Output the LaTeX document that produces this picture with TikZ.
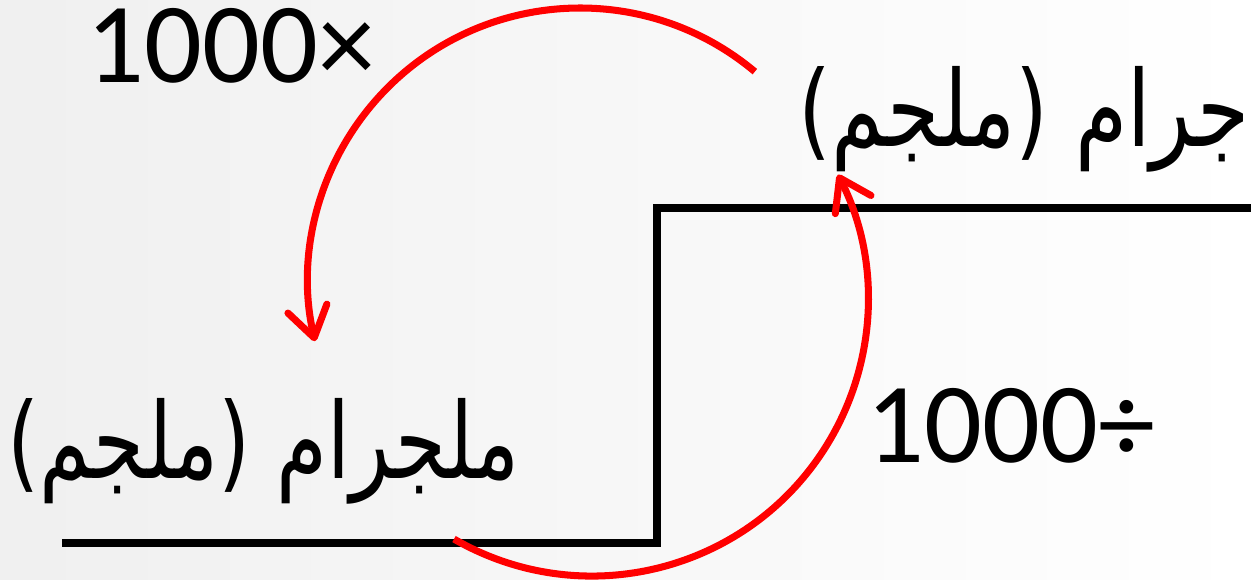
\documentclass[tikz,border=0pt]{standalone}
\usepackage{fontspec}
\setmainfont{Carlito}
\newfontfamily\arabicfont[Script=Arabic]{DejaVu Sans}
\TeXXeTstate=1
\usetikzlibrary{arrows.meta}
\begin{document}
\begin{tikzpicture}[
    conv/.style={red,line width=2pt,-{Straight Barb[length=3mm,width=4mm,round]}},
    stair/.style={line width=2.3pt},
    lbl/.style={font=\fontsize{32.5}{38}\selectfont,inner sep=0pt},
    arlbl/.style={font=\fontsize{30}{36}\selectfont\arabicfont,inner sep=0pt}
    ]
    \useasboundingbox (0,0) rectangle (12.51,5.79);
    \shade[left color=gray!12,right color=white] (0,0) rectangle (12.51,5.79);
    \draw[stair] (0.62,0.36) -- (6.57,0.36) -- (6.57,3.71) -- (12.51,3.71);
    \node[lbl,anchor=base west] (mul) at (0.86,4.97) {1000×};
    \node[lbl,anchor=base west] (div) at (8.66,1.17) {1000÷};
    \node[arlbl] (gram) at (10.24,4.60) {\scalebox{0.8}[1]{\beginR جرام (ملجم)\endR}};
    \node[arlbl] (mgram) at (2.635,1.275) {\scalebox{0.78}[1]{\beginR ملجرام (ملجم)\endR}};
    \coordinate (up) at (5.80,2.99);
    \coordinate (down) at (5.92,2.79);
    \draw[conv] ([shift={(50:2.72)}]up) arc[start angle=50,end angle=193,radius=2.72];
    \draw[conv] ([shift={(240:2.76)}]down) arc[start angle=240,end angle=387,radius=2.76];
\end{tikzpicture}
\end{document}
